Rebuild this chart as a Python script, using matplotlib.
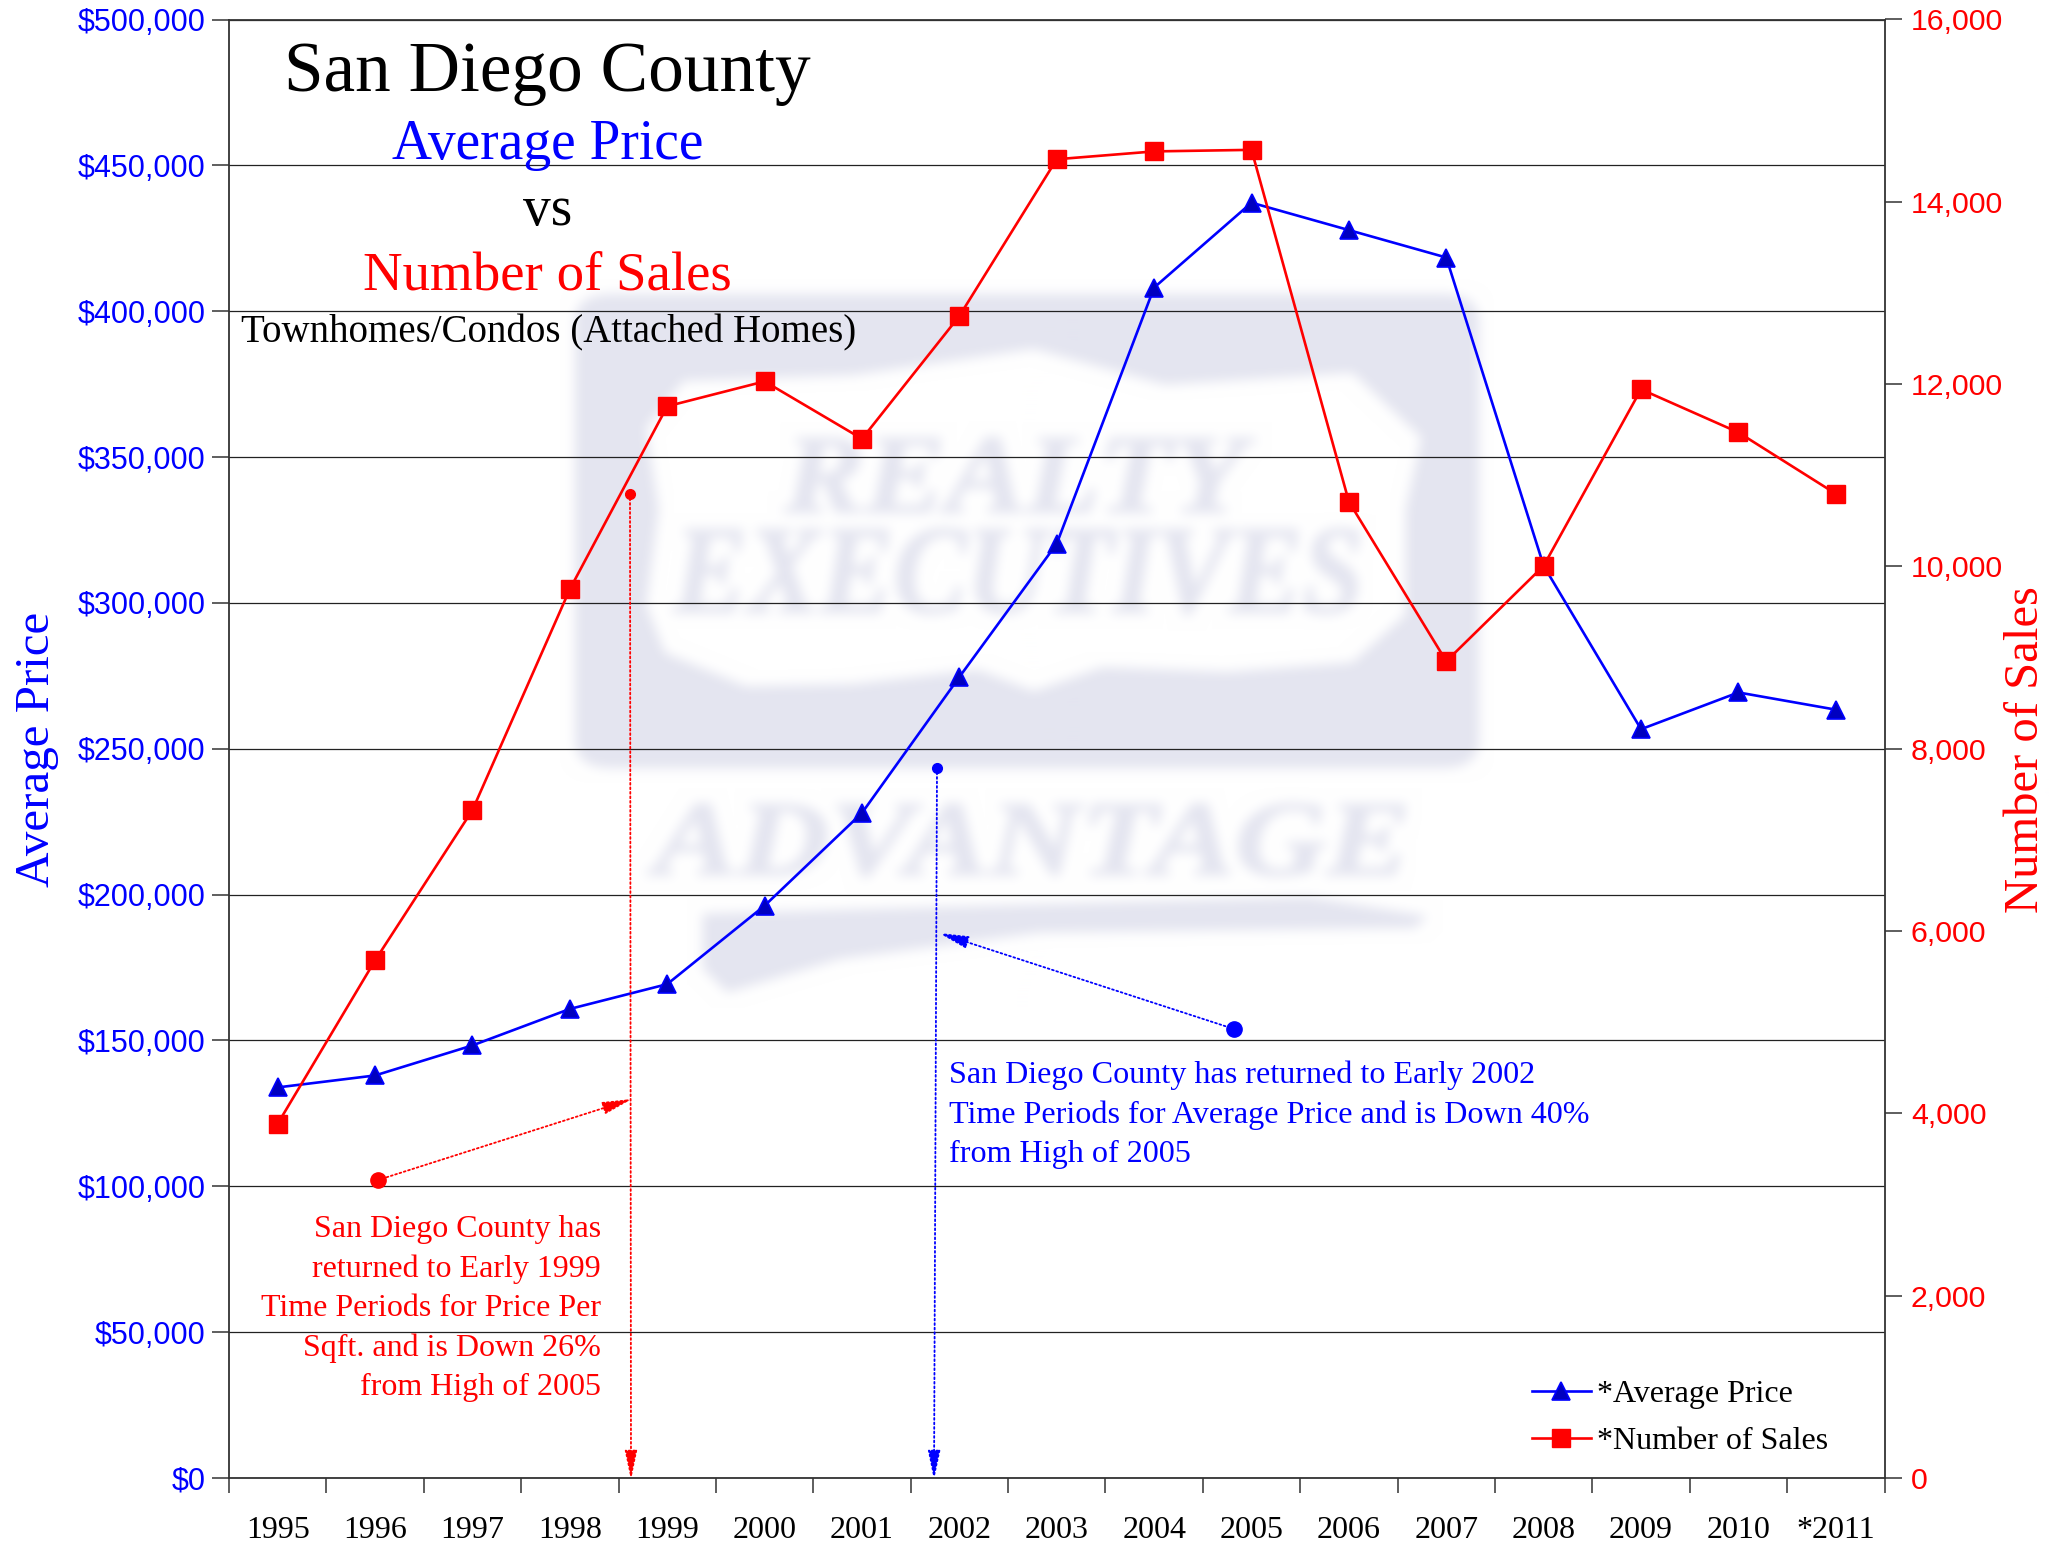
import numpy as np
import matplotlib
matplotlib.use('Agg')
import matplotlib.pyplot as plt
from matplotlib.patches import FancyBboxPatch, Polygon, PathPatch
from matplotlib.lines import Line2D
from matplotlib.textpath import TextPath
from matplotlib.font_manager import FontProperties
from matplotlib.transforms import Affine2D, IdentityTransform

years = ['1995', '1996', '1997', '1998', '1999', '2000', '2001', '2002', '2003',
         '2004', '2005', '2006', '2007', '2008', '2009', '2010', '*2011']
avg_price = [133900, 138000, 148300, 160800, 169300, 196200, 228000, 274600, 320300,
             408100, 437200, 427800, 418400, 312700, 256700, 269300, 263400]
num_sales = [3886, 5678, 7327, 9750, 11757, 12030, 11400, 12747, 14467,
             14553, 14570, 10710, 8960, 10007, 11943, 11470, 10797]

red_note = ['San Diego County has', 'returned to Early 1999', 'Time Periods for Price Per',
            'Sqft. and is Down 26%', 'from High of 2005']
blue_note = ['San Diego County has returned to Early 2002',
             'Time Periods for Average Price and is Down 40%', 'from High of 2005']

W, H = 2049, 1542
plt.rcParams['font.family'] = ['Liberation Serif']
SANS = 'Liberation Sans'
LAV = '#e4e5f0'


def px(x, y):
    # reference pixels -> figure fraction
    return x / W, 1 - y / H


def blur(a, r):
    # three box passes along both image axes
    for _ in range(3):
        for axis in (0, 1):
            pad = [(0, 0)] * 3
            pad[axis] = (r + 1, r)
            c = np.cumsum(np.pad(a, pad, mode='edge'), axis=axis)
            a = (np.take(c, range(2 * r + 1, c.shape[axis]), axis=axis)
                 - np.take(c, range(0, c.shape[axis] - 2 * r - 1), axis=axis)) / (2 * r + 1)
    return a


def zoom_pt(zx, zy):
    return 540 + zx / 1.6, 270 + zy / 2.09


def fit_text(f, s, x0, x1, y0, y1):
    # stretch a word into a box given in reference pixels
    tp = TextPath((0, 0), s, size=100, prop=FontProperties(family='Liberation Serif', weight='bold', style='italic'))
    b = tp.get_extents()
    tr = (Affine2D().translate(-b.x0, -b.y0).scale((x1 - x0) / b.width, (y1 - y0) / b.height)
          .translate(x0, H - y1))
    f.add_artist(PathPatch(tp, transform=tr + IdentityTransform(), fc=LAV, ec=LAV, lw=1.5))


def watermark():
    f = plt.figure(figsize=(W / 100, H / 100), dpi=100)
    f.patch.set_facecolor('white')
    f.add_artist(FancyBboxPatch(px(575, 768), 904 / W, 474 / H, transform=f.transFigure,
                                boxstyle='round,pad=0,rounding_size=0.018', fc=LAV, ec='none'))
    shield = [(170, 330), (230, 232), (500, 220), (790, 165), (1000, 240), (1300, 215), (1410, 350),
              (1385, 500), (1385, 720), (1300, 820), (1100, 840), (900, 830), (790, 880), (700, 835),
              (500, 865), (330, 870), (200, 800), (170, 700), (190, 500)]
    f.add_artist(Polygon([px(*zoom_pt(*p)) for p in shield], transform=f.transFigure, fc='white', ec='none'))
    swoosh = [(260, 1345), (800, 1325), (1230, 1310), (1420, 1350), (1400, 1375), (800, 1385),
              (480, 1440), (300, 1510), (260, 1460)]
    f.add_artist(Polygon([px(*zoom_pt(*p)) for p in swoosh], transform=f.transFigure, fc=LAV, ec='none'))
    fit_text(f, 'REALTY', 784, 1255, 438, 512)
    fit_text(f, 'EXECUTIVES', 673, 1359, 529, 614)
    fit_text(f, 'ADVANTAGE', 647, 1405, 804, 876)
    f.canvas.draw()
    arr = np.asarray(f.canvas.buffer_rgba())[:, :, :3].astype(float)
    plt.close(f)
    return np.clip(blur(arr, 5), 0, 255) / 255


fig = plt.figure(figsize=(W / 100, H / 100), dpi=100)
fig.figimage(watermark(), 0, 0, origin='upper', zorder=0)

ax = fig.add_axes([229 / W, 1 - 1478 / H, (1884.5 - 229) / W, (1478 - 19.5) / H], zorder=1)
ax.patch.set_visible(False)
x = np.arange(len(years))

ax.plot(x, avg_price, color='#0000ff', lw=1.9, marker='^', ms=13.5, mfc='#0000c0', mec='#0000ff',
        mew=1.2, clip_on=False, zorder=3)
ax.set_xlim(-0.5, len(years) - 0.5)
ax.set_ylim(0, 500000)
ax.set_yticks(np.arange(0, 500001, 50000))
ax.set_yticklabels([f'${v:,}' for v in range(0, 500001, 50000)], family=SANS, fontsize=22, color='#0000ff')
ax.yaxis.grid(True, color='#222222', lw=0.9)
ax.set_axisbelow(True)
ax.set_xticks(x)
ax.set_xticklabels(years, fontsize=23, color='black')
ax.set_xticks(np.arange(-0.5, len(years)), minor=True)
ax.tick_params(axis='x', which='major', length=0, pad=27)
ax.tick_params(axis='x', which='minor', length=11, width=1.1, color='#333333')
ax.tick_params(axis='y', length=12, width=1.1, color='#333333', pad=5)
for s in ax.spines.values():
    s.set_color('#333333')
    s.set_linewidth(1.3)

ax2 = ax.twinx()
ax2.set_zorder(2)
ax2.plot(x, num_sales, color='#ff0000', lw=1.9, marker='s', ms=13.5, mfc='#ff0000', mec='#ff0000',
         clip_on=False, zorder=3)
ax2.set_ylim(0, 16000)
ax2.set_yticks(np.arange(0, 16001, 2000))
ax2.set_yticklabels([f'{v:,}' for v in range(0, 16001, 2000)], family=SANS, fontsize=21.8, color='#ff0000')
ax2.tick_params(axis='y', length=12, width=1.1, color='#333333', pad=7)
for s in ax2.spines.values():
    s.set_visible(False)

# titles
fig.text(*px(547.5, 74), 'San Diego County', fontsize=51.3, ha='center', va='center', color='black')
fig.text(*px(547.5, 145), 'Average Price', fontsize=40, ha='center', va='center', color='#0000ff')
fig.text(*px(547.5, 211), 'vs', fontsize=40, ha='center', va='center', color='black')
fig.text(*px(547.5, 276), 'Number of Sales', fontsize=39.5, ha='center', va='center', color='#ff0000')
fig.text(*px(241, 333), 'Townhomes/Condos (Attached Homes)', fontsize=28, ha='left', va='center', color='black')

fig.text(*px(37, 749), 'Average Price', fontsize=35.3, rotation=90, ha='center', va='center', color='#0000ff')
fig.text(*px(2026, 750), 'Number of Sales', fontsize=35, rotation=90, ha='center', va='center', color='#ff0000')

# notes
for i, line in enumerate(red_note):
    fig.text(*px(601, 1229.5 + i * 39.5), line, fontsize=23.05, ha='right', va='center', color='#ff0000')
for i, line in enumerate(blue_note):
    fig.text(*px(949, 1075.5 + i * 39.5), line, fontsize=23.1, ha='left', va='center', color='#0000ff')


def pointer(start, end, color, dot):
    ax2.annotate('', xy=px(*end), xytext=px(*start), xycoords='figure fraction', textcoords='figure fraction',
                 arrowprops=dict(arrowstyle='-|>,head_length=1.8,head_width=0.38', linestyle=(0, (1, 1.5)), lw=1.3,
                                 color=color, shrinkA=0, shrinkB=0), annotation_clip=False)
    ax2.add_artist(Line2D([start[0] / W], [1 - start[1] / H], marker='o', ms=dot, color=color,
                          transform=fig.transFigure, clip_on=False))


pointer((630, 494), (631, 1480), '#ff0000', 7)
pointer((378, 1180), (632, 1099), '#ff0000', 11)
pointer((937, 768), (934, 1480), '#0000ff', 7)
pointer((1234, 1029), (939, 933), '#0000ff', 11)

# legend
handles = [Line2D([], [], color='#0000ff', lw=1.9, marker='^', ms=13.5, mfc='#0000c0', mec='#0000ff', mew=1.2),
           Line2D([], [], color='#ff0000', lw=1.9, marker='s', ms=13.5, mfc='#ff0000', mec='#ff0000')]
ax2.legend(handles, ['*Average Price', '*Number of Sales'], loc='center left', bbox_to_anchor=px(1522, 1418),
           bbox_transform=fig.transFigure, frameon=False, fontsize=23, handlelength=1.85, handletextpad=0.2,
           labelspacing=0.55, borderpad=0.3, borderaxespad=0)

fig.savefig('out.png', dpi=100)
